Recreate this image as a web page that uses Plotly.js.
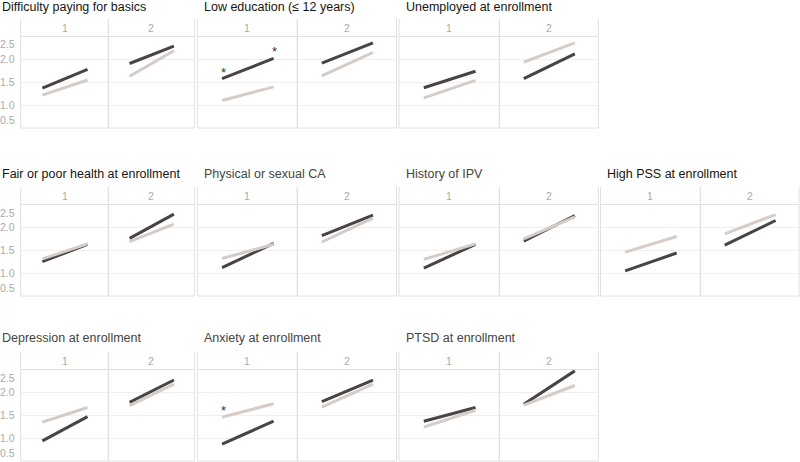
<!DOCTYPE html>
<html>
<head>
<meta charset="utf-8">
<script src="https://cdn.plot.ly/plotly-3.0.1.min.js"></script>
<style>html,body{margin:0;padding:0;background:#fff;}#chart{width:800px;height:462px;}</style>
</head>
<body>
<div id="chart"></div>
<script>
// ---------- DATA ----------
const panelTitles = [
  "Difficulty paying for basics",
  "Low education (\u2264 12 years)",
  "Unemployed at enrollment",
  "Fair or poor health at enrollment",
  "Physical or sexual CA",
  "History of IPV",
  "High PSS at enrollment",
  "Depression at enrollment",
  "Anxiety at enrollment",
  "PTSD at enrollment"
];
const facetLabels = ["1", "2"];
const timePoints = [1, 2];
const yTickVals = [0.5, 1.0, 1.5, 2.0, 2.5];
const yTickText = ["0.5", "1.0", "1.5", "2.0", "2.5"];

// facet "1": [start, end] per panel
const darkFacet1 = [
  [1.37, 1.78], [1.58, 2.02], [1.38, 1.74], [1.25, 1.63], [1.12, 1.65],
  [1.11, 1.63], [1.05, 1.44], [0.94, 1.47], [0.87, 1.37], [1.37, 1.67]
];
const lightFacet1 = [
  [1.22, 1.55], [1.10, 1.40], [1.16, 1.54], [1.31, 1.64], [1.32, 1.63],
  [1.30, 1.64], [1.46, 1.80], [1.35, 1.67], [1.46, 1.75], [1.24, 1.61]
];
// facet "2"
const darkFacet2 = [
  [1.91, 2.29], [1.92, 2.36], [1.58, 2.12], [1.76, 2.29], [1.82, 2.27],
  [1.70, 2.26], [1.61, 2.15], [1.78, 2.27], [1.80, 2.27], [1.74, 2.47]
];
const lightFacet2 = [
  [1.63, 2.19], [1.64, 2.15], [1.94, 2.36], [1.69, 2.07], [1.68, 2.20],
  [1.75, 2.23], [1.86, 2.28], [1.71, 2.18], [1.68, 2.18], [1.72, 2.15]
];
// significance markers: panel index, facet index, series, time point
const starPanel  = [1, 1, 8];
const starFacet  = [0, 0, 0];
const starSeries = ["dark", "dark", "light"];
const starTime   = [1, 2, 1];

// ---------- LAYOUT HELPERS ----------
const W = 800, H = 462;
const DARK = "#4a4345", LIGHT = "#d5ccc8";
const titleColors = ["#151515","#151515","#151515","#151515","#444444","#444444","#151515","#444444","#444444","#444444"];
const panelRC = [[0,0],[0,1],[0,2],[1,0],[1,1],[1,2],[1,3],[2,0],[2,1],[2,2]];
const colEdges = [[20.7,108.3,194.3],[197.3,297.3,396.5],[399,499.3,598.3],[600.5,700.3,799]];
const rowTops = [36.5, 204.5, 369.5];
const plotH = 91.5, stripH = 17.5;
const titleYpx = [7, 174, 338];
const FONT = "Liberation Sans, Arial, sans-serif";
const BORDER = "#e0e0e0";

function xName(c, s) { const i = c*2 + s + 1; return i === 1 ? "x" : "x" + i; }
function yName(r) { return r === 0 ? "y" : "y" + (r + 1); }
function axKey(n) { return n.replace(/^x/, "xaxis").replace(/^y/, "yaxis"); }

const layout = {
  width: W, height: H,
  margin: {l:0, r:0, t:0, b:0},
  paper_bgcolor: "#fff", plot_bgcolor: "#fff",
  showlegend: false,
  font: {family: FONT},
  annotations: [], shapes: []
};

for (let c = 0; c < 4; c++) {
  for (let s = 0; s < 2; s++) {
    layout[axKey(xName(c,s))] = {
      domain: [colEdges[c][s]/W, colEdges[c][s+1]/W],
      range: [0.52, 2.46], showgrid: false, zeroline: false,
      showticklabels: false, ticks: "", showline: false, anchor: "y", fixedrange: true
    };
  }
}
for (let r = 0; r < 3; r++) {
  layout[axKey(yName(r))] = {
    domain: [1 - (rowTops[r] + plotH)/H, 1 - rowTops[r]/H],
    range: [0.5, 2.5], tickvals: [1.0, 1.5, 2.0],
    showgrid: true, gridcolor: "#efefef", gridwidth: 1,
    zeroline: false, showticklabels: false, ticks: "", showline: false,
    anchor: "x", fixedrange: true
  };
  // y tick labels (left column only)
  yTickVals.forEach((v, i) => {
    layout.annotations.push({
      xref: "paper", x: 16.5/W, xanchor: "right",
      yref: yName(r), y: v,
      yanchor: i === 0 ? "bottom" : (i === yTickVals.length - 1 ? "top" : "middle"),
      text: yTickText[i], showarrow: false,
      font: {size: 10.5, color: "#ababab", family: FONT}
    });
  });
}

const traces = [];
const stripTop = 1 + stripH/plotH;
panelTitles.forEach((title, p) => {
  const [r, c] = panelRC[p];
  layout.annotations.push({
    xref: "paper", x: (c === 0 ? 0 : colEdges[c][0] + 4.5)/W, xanchor: "left",
    yref: "paper", y: 1 - titleYpx[r]/H, yanchor: "middle",
    text: title, showarrow: false,
    font: {size: 12.5, color: titleColors[p], family: FONT}
  });
  const darkSets = [darkFacet1[p], darkFacet2[p]];
  const lightSets = [lightFacet1[p], lightFacet2[p]];
  for (let s = 0; s < 2; s++) {
    const xa = xName(c, s), ya = yName(r);
    traces.push({x: timePoints, y: darkSets[s], xaxis: xa, yaxis: ya, mode: "lines",
      line: {color: DARK, width: 3}, hoverinfo: "skip"});
    traces.push({x: timePoints, y: lightSets[s], xaxis: xa, yaxis: ya, mode: "lines",
      line: {color: LIGHT, width: 3}, hoverinfo: "skip"});
    // strip label
    layout.annotations.push({
      xref: xa + " domain", x: 0.5, xanchor: "center",
      yref: ya + " domain", y: 1 + (stripH/2)/plotH, yanchor: "middle",
      text: facetLabels[s], showarrow: false,
      font: {size: 10.5, color: "#ababab", family: FONT}
    });
    // frame lines
    const line = {color: BORDER, width: 1};
    layout.shapes.push({type:"line", xref: xa+" domain", yref: ya+" domain", x0:0, x1:0, y0:0, y1:stripTop, line, layer:"above"});
    layout.shapes.push({type:"line", xref: xa+" domain", yref: ya+" domain", x0:1, x1:1, y0:0, y1:stripTop, line, layer:"above"});
    layout.shapes.push({type:"line", xref: xa+" domain", yref: ya+" domain", x0:0, x1:1, y0:0, y1:0, line, layer:"above"});
    layout.shapes.push({type:"line", xref: xa+" domain", yref: ya+" domain", x0:0, x1:1, y0:1, y1:1, line, layer:"above"});
  }
});

starPanel.forEach((p, i) => {
  const [r, c] = panelRC[p];
  const f = starFacet[i];
  const src = starSeries[i] === "dark" ? [darkFacet1, darkFacet2][f] : [lightFacet1, lightFacet2][f];
  const t = starTime[i];
  layout.annotations.push({
    xref: xName(c, f), x: t, xshift: 1, yref: yName(r), y: src[p][timePoints.indexOf(t)],
    yanchor: "bottom", yshift: -3, text: "*", showarrow: false,
    font: {size: 13, color: "#333", family: FONT}
  });
});

Plotly.newPlot("chart", traces, layout, {staticPlot: true, displayModeBar: false});
</script>
</body>
</html>
